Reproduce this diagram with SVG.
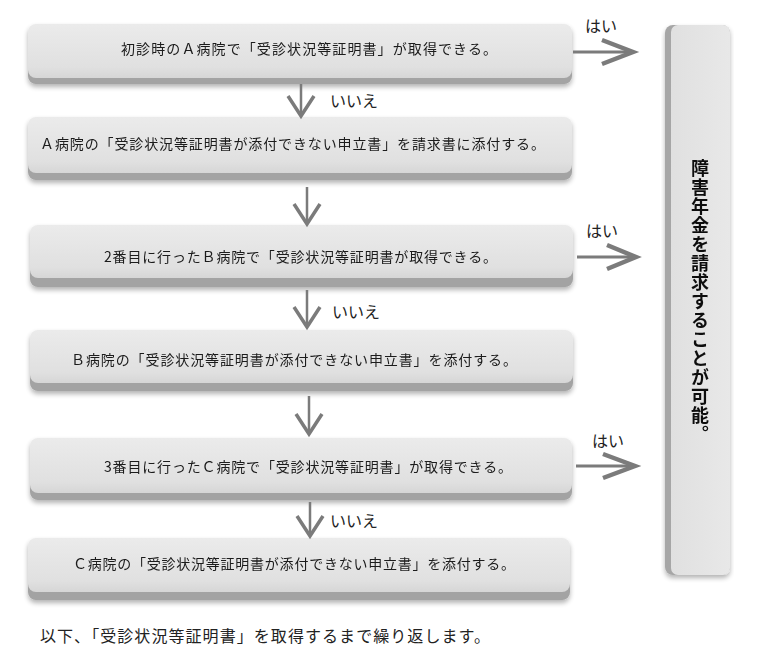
<svg xmlns="http://www.w3.org/2000/svg" width="775" height="650" viewBox="0 0 775 650">
<defs>
<linearGradient id="face" x1="0" y1="0" x2="0" y2="1">
<stop offset="0" stop-color="#ebebeb"/>
<stop offset="0.8" stop-color="#e0e0e0"/>
<stop offset="1" stop-color="#d6d6d6"/>
</linearGradient>
<linearGradient id="faceV" x1="0" y1="0" x2="1" y2="0">
<stop offset="0" stop-color="#e0e0e0"/>
<stop offset="1" stop-color="#e8e8e8"/>
</linearGradient>
<filter id="sh" x="-5%" y="-20%" width="110%" height="150%">
<feGaussianBlur in="SourceAlpha" stdDeviation="2.5"/>
<feOffset dx="0" dy="3" result="b"/>
<feComponentTransfer><feFuncA type="linear" slope="0.3"/></feComponentTransfer>
<feMerge><feMergeNode/><feMergeNode in="SourceGraphic"/></feMerge>
</filter>
</defs>
<style>
.base{fill:#a3a3a3;}
.face{fill:url(#face);}
.t{font-family:"Noto Sans CJK JP","Noto Sans",sans-serif;font-size:14px;fill:#1a1a1a;dominant-baseline:central;}
.lbl{font-family:"Noto Sans CJK JP","Noto Sans",sans-serif;font-size:16px;fill:#222;dominant-baseline:central;}
.shaft{stroke:#7b7b7b;stroke-width:2.5;fill:none;}
.head{stroke:#7b7b7b;stroke-width:3.5;fill:none;stroke-linecap:butt;stroke-linejoin:miter;}
.rshaft{stroke:#7b7b7b;stroke-width:3;fill:none;}
.rhead{stroke:#7b7b7b;stroke-width:4.5;fill:none;stroke-linejoin:miter;}
.vt{font-family:"Noto Sans CJK JP","Noto Sans",sans-serif;font-size:18px;font-weight:bold;fill:#111;letter-spacing:1px;}
</style>

<g id="n1" filter="url(#sh)">
<rect class="base" x="28" y="30" width="544" height="54" rx="8"/>
<rect class="face" x="28" y="24" width="544" height="54" rx="8"/>
<text class="t" x="121" y="48" textLength="376" lengthAdjust="spacing">初診時のＡ病院で「受診状況等証明書」が取得できる。</text>
</g>
<g id="n2" filter="url(#sh)">
<rect class="base" x="28" y="124" width="544" height="56" rx="8"/>
<rect class="face" x="28" y="117" width="544" height="56" rx="8"/>
<text class="t" x="40" y="143" textLength="505" lengthAdjust="spacing">Ａ病院の「受診状況等証明書が添付できない申立書」を請求書に添付する。</text>
</g>
<g id="n3" filter="url(#sh)">
<rect class="base" x="30" y="233" width="543" height="54" rx="8"/>
<rect class="face" x="30" y="225" width="543" height="53" rx="8"/>
<text class="t" x="104" y="256" textLength="393" lengthAdjust="spacing">2番目に行ったＢ病院で「受診状況等証明書が取得できる。</text>
</g>
<g id="n4" filter="url(#sh)">
<rect class="base" x="30" y="337" width="543" height="54" rx="8"/>
<rect class="face" x="30" y="330" width="543" height="53" rx="8"/>
<text class="t" x="71" y="359" textLength="446" lengthAdjust="spacing">Ｂ病院の「受診状況等証明書が添付できない申立書」を添付する。</text>
</g>
<g id="n5" filter="url(#sh)">
<rect class="base" x="30" y="445" width="542" height="55" rx="8"/>
<rect class="face" x="30" y="438" width="542" height="55" rx="8"/>
<text class="t" x="104" y="466" textLength="408" lengthAdjust="spacing">3番目に行ったＣ病院で「受診状況等証明書」が取得できる。</text>
</g>
<g id="n6" filter="url(#sh)">
<rect class="base" x="28" y="545" width="542" height="55" rx="8"/>
<rect class="face" x="28" y="538" width="542" height="54" rx="8"/>
<text class="t" x="73" y="563" textLength="442" lengthAdjust="spacing">Ｃ病院の「受診状況等証明書が添付できない申立書」を添付する。</text>
</g>

<g id="result" filter="url(#sh)">
<rect x="665" y="25" width="65" height="550" rx="8" fill="#a6a6a6"/>
<rect x="671" y="25" width="59" height="550" rx="7" fill="url(#faceV)"/>
<text class="vt" x="700" y="159" writing-mode="vertical-rl">障害年金を請求することが可能。</text>
</g>

<g id="connectors">
<line class="shaft" x1="301" y1="84" x2="301" y2="116"/>
<polyline class="head" points="288,96 301,116 314,96"/>
<text class="lbl" x="330" y="100">いいえ</text>

<line class="shaft" x1="307" y1="187" x2="307" y2="224"/>
<polyline class="head" points="294,204 307,224 320,204"/>

<line class="shaft" x1="307" y1="290" x2="307" y2="327"/>
<polyline class="head" points="294,307 307,327 320,307"/>
<text class="lbl" x="332" y="311">いいえ</text>

<line class="shaft" x1="309" y1="396" x2="309" y2="434"/>
<polyline class="head" points="296,414 309,434 322,414"/>

<line class="shaft" x1="310" y1="502" x2="310" y2="536"/>
<polyline class="head" points="297,516 310,536 323,516"/>
<text class="lbl" x="330" y="520">いいえ</text>

<line class="rshaft" x1="573" y1="52" x2="633" y2="52"/>
<polyline class="rhead" points="602,40 633,52 602,64"/>
<text class="lbl" x="585" y="25">はい</text>

<line class="rshaft" x1="577" y1="257" x2="636" y2="257"/>
<polyline class="rhead" points="607,245 636,257 607,269"/>
<text class="lbl" x="586" y="230">はい</text>

<line class="rshaft" x1="576" y1="466" x2="635" y2="466"/>
<polyline class="rhead" points="603,454 635,466 603,478"/>
<text class="lbl" x="592" y="440">はい</text>
</g>

<text class="lbl" x="40" y="635" textLength="450" lengthAdjust="spacing">以下、「受診状況等証明書」を取得するまで繰り返します。</text>
</svg>
